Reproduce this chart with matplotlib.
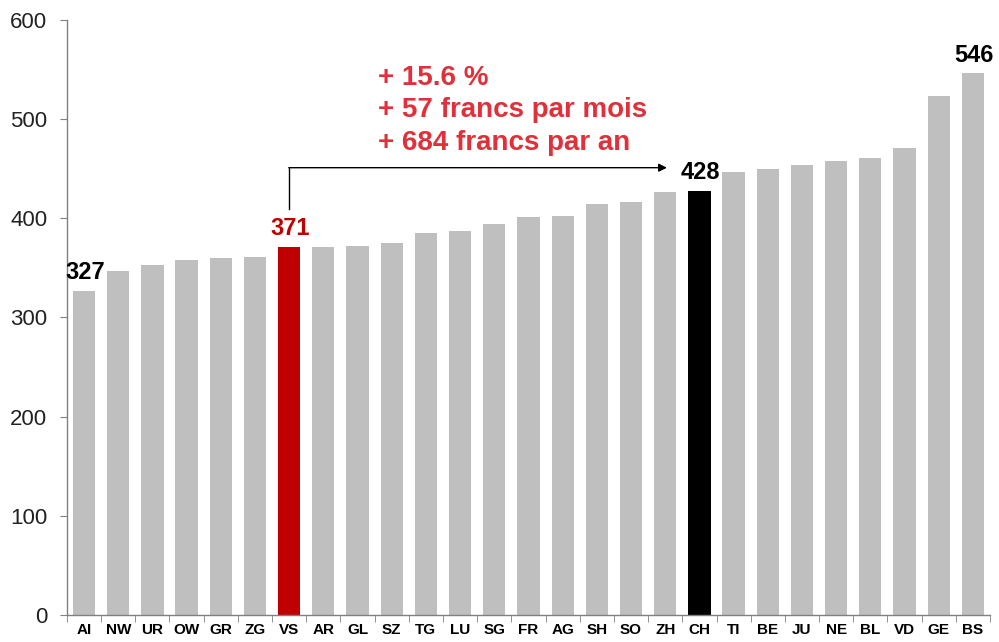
import numpy as np
import matplotlib.pyplot as plt

cantons = ["AI", "NW", "UR", "OW", "GR", "ZG", "VS", "AR", "GL", "SZ", "TG", "LU", "SG",
           "FR", "AG", "SH", "SO", "ZH", "CH", "TI", "BE", "JU", "NE", "BL", "VD", "GE", "BS"]
values = [327, 347, 353, 358, 360, 361, 371, 371, 372, 375, 385, 387, 394,
          401, 402, 414, 416, 426, 428, 447, 450, 454, 458, 461, 471, 523, 546]
labelled = {"AI": "black", "VS": "#C00000", "CH": "black", "BS": "black"}
note_lines = ["+ 15.6 %", "+ 57 francs par mois", "+ 684 francs par an"]

plt.rcParams["font.family"] = ["Liberation Sans", "DejaVu Sans"]

colors = ["#BFBFBF"] * len(cantons)
colors[cantons.index("VS")] = "#C00000"
colors[cantons.index("CH")] = "#000000"

fig = plt.figure(figsize=(9.99, 6.42), dpi=100)
ax = fig.add_axes([0.067, 0.042, 0.924, 0.927])

x = np.arange(len(cantons))
ax.bar(x, values, width=0.65, color=colors, zorder=2)

ax.set_xlim(-0.5, len(cantons) - 0.5)
ax.set_ylim(0, 600)
ax.set_yticks(range(0, 601, 100))
ax.tick_params(axis="y", labelsize=16, length=5, color="#808080", labelcolor="#222222", pad=9)

ax.set_xticks(x)
ax.set_xticklabels(cantons, fontsize=11, fontweight="bold")
ax.set_xticks(np.arange(-0.5, len(cantons), 1), minor=True)
ax.tick_params(axis="x", which="major", length=0, pad=6)
ax.tick_params(axis="x", which="minor", length=5, color="#808080")

for s in ["top", "right"]:
    ax.spines[s].set_visible(False)
for s in ["left", "bottom"]:
    ax.spines[s].set_color("#808080")
    ax.spines[s].set_linewidth(1.0)

for name, col in labelled.items():
    i = cantons.index(name)
    ax.annotate(str(values[i]), (i, values[i]), xytext=(1, 5), textcoords="offset points",
                ha="center", va="bottom", fontsize=17, fontweight="bold", color=col)

# arrow from VS to CH
i_vs = cantons.index("VS")
i_ch = cantons.index("CH")
y_arrow = 451
ax.plot([i_vs, i_vs], [values[i_vs] + 38, y_arrow], color="black", lw=1.0)
ax.annotate("", xy=(i_ch - 0.95, y_arrow), xytext=(i_vs - 0.01, y_arrow),
            arrowprops=dict(arrowstyle="-|>", color="black", lw=1.0,
                            mutation_scale=12, shrinkA=0, shrinkB=0))

ax.text(i_vs + 2.6, 509, "\n".join(note_lines), ha="left", va="center",
        fontsize=20, fontweight="bold", color="#E0303A", linespacing=1.32)

fig.savefig("out.png", dpi=100)
